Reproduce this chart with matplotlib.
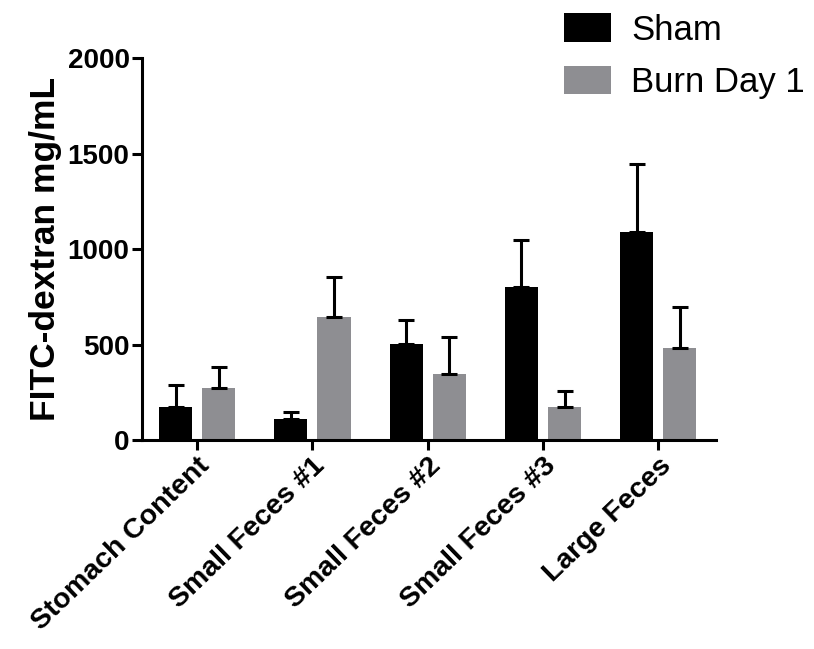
import numpy as np
import matplotlib.pyplot as plt

plt.rcParams['font.family'] = ['Liberation Sans', 'DejaVu Sans']

categories = ['Stomach Content', 'Small Feces #1', 'Small Feces #2', 'Small Feces #3', 'Large Feces']
sham = [172, 108, 505, 800, 1090]
sham_err = [118, 37, 122, 250, 358]
burn = [272, 645, 345, 172, 484]
burn_err = [113, 210, 195, 84, 214]

x = np.arange(len(categories))
w = 0.287
off = 0.187

fig = plt.figure(figsize=(8.14, 6.49), dpi=100)
ax = fig.add_axes([0.1745, 0.322, 0.7055, 0.588])

ekw = dict(elinewidth=2.2, capthick=2.2, ecolor='black')
ax.bar(x - off, sham, w, color='black', label='Sham',
       yerr=[np.zeros(len(sham)), sham_err], capsize=5.5, error_kw=ekw)
ax.bar(x + off, burn, w, color='#8e8e92', label='Burn Day 1',
       yerr=[np.zeros(len(burn)), burn_err], capsize=5.5, error_kw=ekw)

ax.set_xlim(-0.478, 4.504)
ax.set_ylim(0, 2000)
ax.set_yticks([0, 500, 1000, 1500, 2000])
ax.set_xticks(x)
ax.set_xticklabels(categories, rotation=44, ha='right', rotation_mode='anchor',
                   fontsize=20.5, fontweight='bold')
for lab in ax.get_yticklabels():
    lab.set_fontweight('bold')
    lab.set_fontsize(20)

ax.spines['top'].set_visible(False)
ax.spines['right'].set_visible(False)
for s in ['left', 'bottom']:
    ax.spines[s].set_linewidth(2.2)
ax.tick_params(direction='out', length=7, width=2.2, pad=2)

ax.set_ylabel('FITC-dextran mg/mL', fontsize=25.5, fontweight='bold', labelpad=4)

ax.legend(loc='upper left', bbox_to_anchor=(0.71, 1.155), frameon=False,
          fontsize=25, handlelength=1.35, handleheight=0.9, labelspacing=0.55,
          handletextpad=0.6, borderaxespad=0)

fig.savefig('out.png', dpi=100)
